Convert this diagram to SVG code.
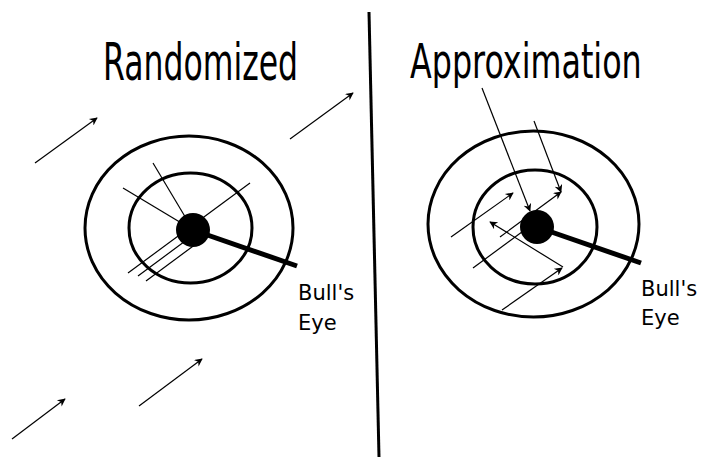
<svg xmlns="http://www.w3.org/2000/svg" width="706" height="458" viewBox="0 0 706 458">
<style>
.ring{fill:none;stroke:#000;stroke-width:3}
.thin{stroke:#000;stroke-width:1.2;fill:none}
.arr{stroke:#000;stroke-width:1.2;fill:none;marker-end:url(#ah)}
.pointer{stroke:#000;stroke-width:5;stroke-linecap:butt}
.title{font-family:"DejaVu Sans",sans-serif;fill:#000}
.label{font-family:"DejaVu Sans",sans-serif;font-size:21px;fill:#000}
</style>
<defs>
<marker id="ah" viewBox="0 0 10 10" refX="9" refY="5" markerUnits="userSpaceOnUse" markerWidth="11" markerHeight="8" orient="auto">
<path d="M0,0 L10,5 L0,10 L3,5 Z" fill="#000"/>
</marker>
</defs>
<rect width="706" height="458" fill="#fff"/>
<g id="title-left" transform="translate(103,80) scale(0.606,1)">
<text class="title" x="0" y="0" font-size="52">Randomized</text>
</g>
<g id="title-right" transform="translate(410,78) scale(0.662,1)">
<text class="title" x="0" y="0" font-size="48">Approximation</text>
</g>
<line x1="369" y1="12" x2="379" y2="457" stroke="#000" stroke-width="3"/>
<g id="connectors">
<line class="arr" x1="35" y1="163" x2="97" y2="118"/>
<line class="arr" x1="290" y1="139" x2="353" y2="93"/>
<line class="arr" x1="12" y1="439" x2="65" y2="399"/>
<line class="arr" x1="139" y1="406" x2="202" y2="359"/>
<line class="thin" x1="153" y1="163" x2="193" y2="230"/>
<line class="thin" x1="123" y1="188" x2="193" y2="230"/>
<line class="thin" x1="250" y1="183" x2="128" y2="273"/>
<line class="thin" x1="138" y1="276" x2="200" y2="230"/>
<line class="thin" x1="146" y1="281" x2="200" y2="241"/>
<line class="arr" x1="482" y1="88" x2="530" y2="211"/>
<line class="arr" x1="534" y1="121" x2="561" y2="192"/>
<line class="arr" x1="451" y1="237" x2="513" y2="193"/>
<line class="arr" x1="500" y1="237" x2="561" y2="192"/>
<line class="arr" x1="563" y1="267" x2="490" y2="222"/>
<line class="thin" x1="473" y1="268" x2="530" y2="226"/>
<line class="arr" x1="502" y1="310" x2="562" y2="268"/>
</g>
<g id="target-left">
<ellipse class="ring" cx="189" cy="228" rx="104" ry="92"/>
<ellipse class="ring" cx="190.5" cy="228" rx="61.5" ry="55"/>
</g>
<g id="bullseye-left">
<line class="pointer" x1="193" y1="230" x2="297" y2="266"/>
<circle cx="193" cy="230" r="17" fill="#000"/>
<text class="label" x="298" y="300">Bull's</text>
<text class="label" x="298" y="330">Eye</text>
</g>
<g id="target-right">
<ellipse class="ring" cx="533.5" cy="224" rx="105.5" ry="93"/>
<ellipse class="ring" cx="535" cy="227" rx="62" ry="57"/>
</g>
<g id="bullseye-right">
<line class="pointer" x1="537" y1="227" x2="641" y2="263"/>
<circle cx="537" cy="227" r="17" fill="#000"/>
<text class="label" x="641" y="296">Bull's</text>
<text class="label" x="641" y="325">Eye</text>
</g>
</svg>
